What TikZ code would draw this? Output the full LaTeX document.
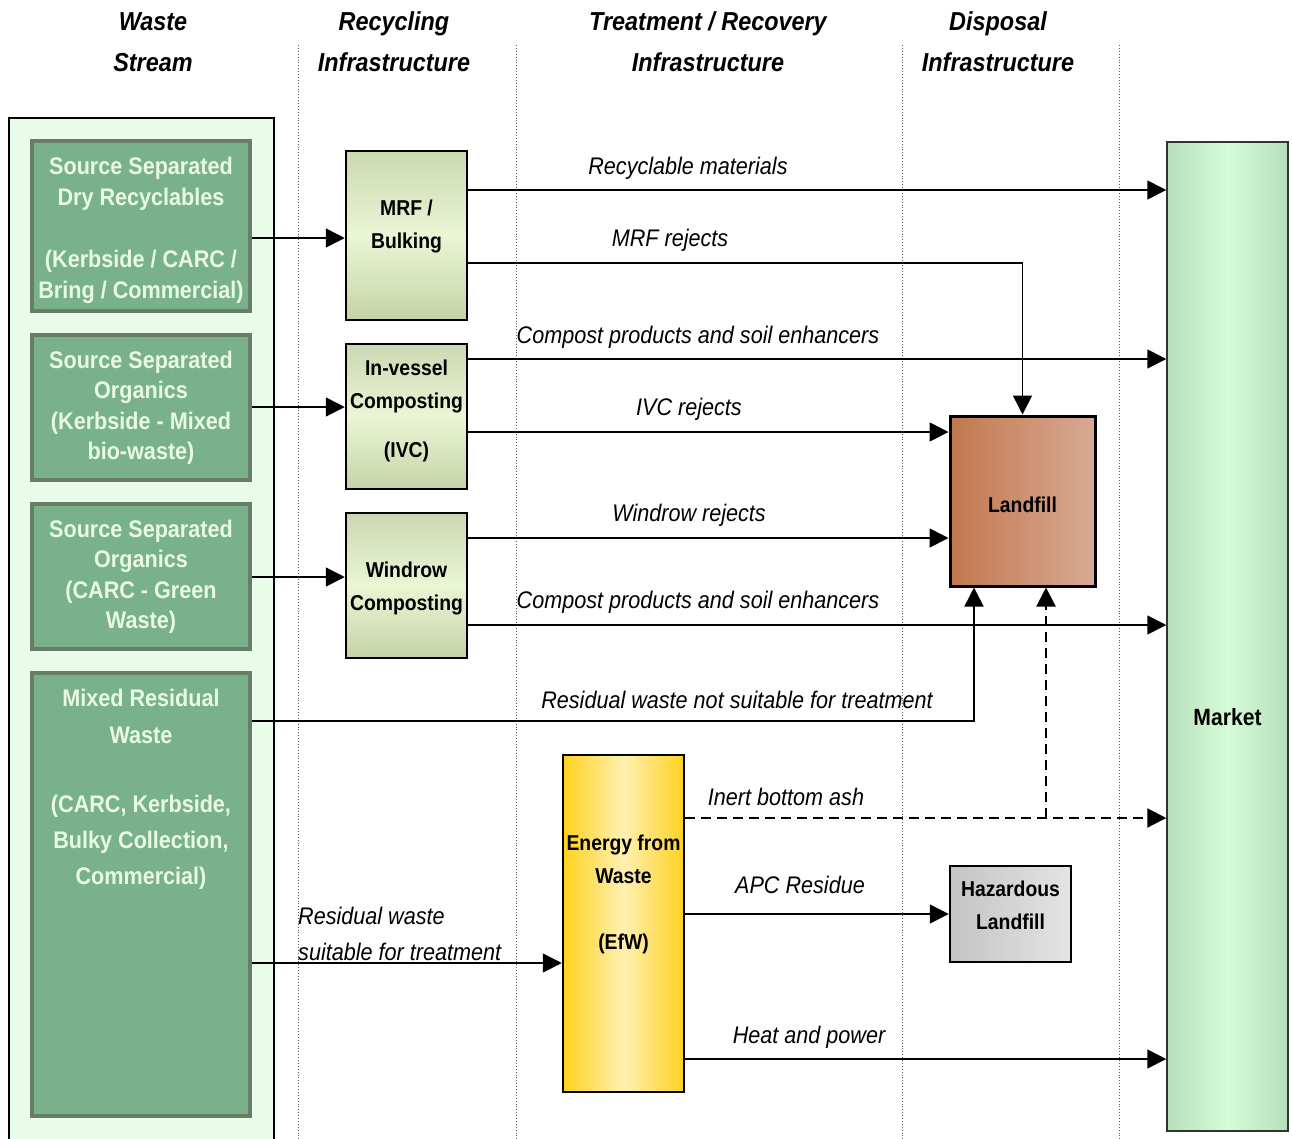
\documentclass[tikz,border=0pt]{standalone}
\usepackage{fontspec}
\setmainfont{Liberation Sans}[FakeStretch=0.9]
\usetikzlibrary{arrows.meta}
\definecolor{panelfill}{RGB}{233,252,233}
\definecolor{gfill}{RGB}{121,177,139}
\definecolor{gborder}{RGB}{104,124,104}
\definecolor{gtextc}{RGB}{232,250,225}
\definecolor{mrftop}{RGB}{204,216,178}
\definecolor{mrfmid}{RGB}{234,246,212}
\definecolor{mrfbot}{RGB}{198,211,168}
\definecolor{lfleft}{RGB}{194,120,78}
\definecolor{lfright}{RGB}{215,170,148}
\definecolor{efwedge}{RGB}{255,210,30}
\definecolor{efwmid}{RGB}{255,240,178}
\definecolor{hzleft}{RGB}{196,196,196}
\definecolor{hzright}{RGB}{228,228,228}
\definecolor{mkedge}{RGB}{184,223,187}
\definecolor{mkmid}{RGB}{212,252,214}
\definecolor{sepc}{RGB}{90,90,90}
\begin{document}
\begin{tikzpicture}[x=1pt,y=-1pt,
  hdr/.style={font=\bfseries\itshape\fontsize{26}{41}\selectfont, align=center, inner sep=0pt},
  lbl/.style={font=\itshape\fontsize{24}{36}\selectfont, inner sep=0pt, yshift=-2.5pt},
  gbox/.style={draw=gborder, line width=4pt, fill=gfill, inner sep=0pt},
  gtext/.style={text=gtextc, font=\bfseries\fontsize{24}{30.5}\selectfont, align=center, inner sep=0pt, yshift=-2.5pt},
  btext/.style={font=\bfseries\fontsize{21.5}{33}\selectfont, align=center, inner sep=0pt, yshift=-2.5pt},
  mrfbox/.style={draw=black, line width=2.5pt, top color=mrftop, bottom color=mrfbot, middle color=mrfmid, inner sep=0pt},
  lfbox/.style={draw=black, line width=3pt, left color=lfleft, right color=lfright, inner sep=0pt},
  efwbox/.style={draw=black, line width=2.5pt, left color=efwedge, right color=efwedge, middle color=efwmid, inner sep=0pt},
  hzbox/.style={draw=black, line width=2.5pt, left color=hzleft, right color=hzright, inner sep=0pt},
  mkbox/.style={draw=black!80, line width=1.5pt, left color=mkedge, right color=mkedge, middle color=mkmid, inner sep=0pt},
  arr/.style={line width=1.6pt, -{Triangle[length=19pt,width=19pt]}},
  darr/.style={line width=2.2pt, dash pattern=on 10pt off 6pt, -{Triangle[length=19pt,width=19pt]}},
  sepline/.style={sepc, line width=0.9pt, dotted}
]
\useasboundingbox (0,0) rectangle (1292,1138);
\clip (0,0) rectangle (1292,1138);

% separators
\foreach \x in {298,516,902,1119} \draw[sepline] (\x,45) -- (\x,1140);

% headers
\node[hdr] (h1) at (153,42) {Waste\\Stream};
\node[hdr] (h2) at (394,42) {Recycling\\Infrastructure};
\node[hdr] (h3) at (708,42) {Treatment / Recovery\\Infrastructure};
\node[hdr] (h4) at (998,42) {Disposal\\Infrastructure};

% waste stream panel
\draw[fill=panelfill, draw=black, line width=1.5pt] (9,118) rectangle (274,1160);

\node[gbox, minimum width=218pt, minimum height=170pt] (b1) at (141,226) {};
\node[gtext] (t1) at (141,228) {Source Separated\\Dry Recyclables\\[32pt](Kerbside / CARC /\\Bring / Commercial)};
\node[gbox, minimum width=218pt, minimum height=145pt] (b2) at (141,407.5) {};
\node[gtext] (t2) at (141,405.5) {Source Separated\\Organics\\(Kerbside - Mixed\\bio-waste)};
\node[gbox, minimum width=218pt, minimum height=145pt] (b3) at (141,576.5) {};
\node[gtext] (t3) at (141,574.5) {Source Separated\\Organics\\(CARC - Green\\Waste)};
\node[gbox, minimum width=218pt, minimum height=443pt] (b4) at (141,894.5) {};
\node[gtext, font=\bfseries\fontsize{24}{36.2}\selectfont] (t4) at (141,787) {Mixed Residual\\Waste\\[33pt](CARC, Kerbside,\\Bulky Collection,\\Commercial)};

% processing boxes
\node[mrfbox, minimum width=121pt, minimum height=169pt] (mrf) at (406.5,235.5) {};
\node[btext] (tmrf) at (406.5,223.5) {MRF /\\Bulking};
\node[mrfbox, minimum width=121pt, minimum height=145pt] (ivc) at (406.5,416.5) {};
\node[btext] (tivc) at (406.5,408) {In-vessel\\Composting\\[16pt](IVC)};
\node[mrfbox, minimum width=121pt, minimum height=145pt] (wind) at (406.5,585.5) {};
\node[btext] (twind) at (406.5,585.5) {Windrow\\Composting};

\node[lfbox, minimum width=145pt, minimum height=170pt] (lf) at (1022.5,501) {};
\node[btext, yshift=2.5pt] (tlf) at (1022.5,505) {Landfill};
\node[efwbox, minimum width=121pt, minimum height=337pt] (efw) at (623.5,923.5) {};
\node[btext] (tefw) at (623.5,892) {Energy from\\Waste\\[33pt](EfW)};
\node[hzbox, minimum width=121pt, minimum height=96pt] (hz) at (1010.5,914) {};
\node[btext, yshift=2.5pt] (thz) at (1010.5,905.5) {Hazardous\\Landfill};
\node[mkbox, minimum width=121pt, minimum height=989pt] (mk) at (1227.5,636.5) {};
\node[btext, font=\bfseries\fontsize{23.5}{33}\selectfont] (tmk) at (1227.5,715) {Market};

% row coordinates
\coordinate (r190) at (0,190);
\coordinate (r238) at (0,238);
\coordinate (r263) at (0,263);
\coordinate (r359) at (0,359);
\coordinate (r407) at (0,407);
\coordinate (r432) at (0,432);
\coordinate (r538) at (0,538);
\coordinate (r577) at (0,577);
\coordinate (r625) at (0,625);
\coordinate (r721) at (0,721);
\coordinate (r818) at (0,818);
\coordinate (r914) at (0,914);
\coordinate (r963) at (0,963);
\coordinate (r1059) at (0,1059);
\coordinate (c974) at (974,0);
\coordinate (ash) at (1046,818);

% connectors
\draw[arr] (b1.east |- r238) -- (mrf.west |- r238);
\draw[arr] (b2.east |- r407) -- (ivc.west |- r407);
\draw[arr] (b3.east |- r577) -- (wind.west |- r577);
\draw[arr] (mrf.east |- r190) -- (mk.west |- r190);
\draw[arr] (mrf.east |- r263) -| (lf.north);
\draw[arr] (ivc.east |- r359) -- (mk.west |- r359);
\draw[arr] (ivc.east |- r432) -- (lf.west |- r432);
\draw[arr] (wind.east |- r538) -- (lf.west |- r538);
\draw[arr] (wind.east |- r625) -- (mk.west |- r625);
\draw[arr] (b4.east |- r721) -| (lf.south -| c974);
\draw[darr] (efw.east |- r818) -- (mk.west |- r818);
\draw[darr] (ash) -- (lf.south -| ash);
\draw[arr] (efw.east |- r914) -- (hz.west |- r914);
\draw[arr] (b4.east |- r963) -- (efw.west |- r963);
\draw[arr] (efw.east |- r1059) -- (mk.west |- r1059);

% labels
\node[lbl] (l1) at (688,166) {Recyclable materials};
\node[lbl] (l2) at (670,238) {MRF rejects};
\node[lbl] (l3) at (698,335) {Compost products and soil enhancers};
\node[lbl] (l4) at (689,407) {IVC rejects};
\node[lbl] (l5) at (689,513) {Windrow rejects};
\node[lbl] (l6) at (698,600) {Compost products and soil enhancers};
\node[lbl] (l7) at (737,697) {Residual waste not suitable for treatment};
\node[lbl] (l8) at (786,794) {Inert bottom ash};
\node[lbl] (l9) at (800,882) {APC Residue};
\node[lbl] (l10) at (809,1035) {Heat and power};
\node[lbl, align=left, anchor=west] (l11) at (298,931) {Residual waste\\suitable for treatment};
\end{tikzpicture}
\end{document}
